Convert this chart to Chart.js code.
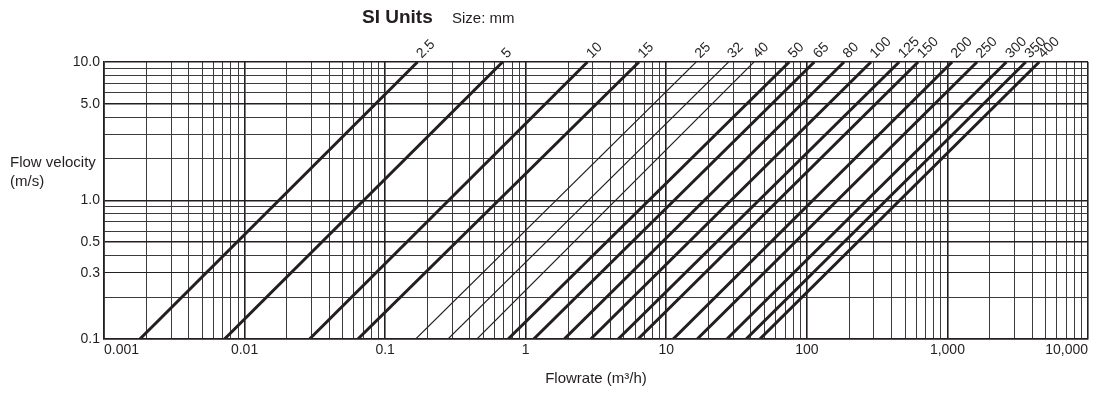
<!DOCTYPE html>
<html>
<head>
<meta charset="utf-8">
<script src="https://cdn.jsdelivr.net/npm/chart.js@4.4.1/dist/chart.umd.min.js"></script>
<style>
	html, body { margin: 0; padding: 0; background: #fff; }
</style>
</head>
<body>
<canvas id="chart-pipe-velocity" width="1106" height="394"></canvas>
<script>
// Pipe sizes (mm) and the flowrate (m3/h) where each line meets 0.1 m/s and 10 m/s
const SIZES = ["2.5", "5", "10", "15", "25", "32", "40", "50", "65", "80", "100", "125", "150", "200", "250", "300", "350", "400"];
const FLOW_AT_LOW_V = [0.0018, 0.0072, 0.029, 0.064, 0.165, 0.28, 0.45, 0.75, 1.14, 1.88, 2.9, 4.55, 6.3, 11.2, 16.6, 27, 37, 46.3];
const FLOW_AT_HIGH_V = [0.17, 0.685, 2.75, 6.4, 16.3, 27.7, 42, 75, 113, 184, 286, 454, 619, 1080, 1625, 2630, 3610, 4500];
const THIN_SIZES = ["25", "32", "40"];
const V_LOW = 0.1;
const V_HIGH = 10;

const X_DECADES = [0.001, 0.01, 0.1, 1, 10, 100, 1000, 10000];
const X_TICK_LABELS = ["0.001", "0.01", "0.1", "1", "10", "100", "1,000", "10,000"];
const Y_DECADES = [0.1, 1, 10];
const Y_TICK_LABELS = [0.1, 0.3, 0.5, 1, 5, 10];

const INK = "#231f20";
const FONT = "'Liberation Sans', Arial, Helvetica, sans-serif";

// log grid: 1..9 in every decade
const logSteps = (decades) => {
	const out = [];
	decades.forEach((d, i) => {
		if (i === decades.length - 1) {
			out.push(d);
			return;
		}
		for (let m = 1; m <= 9; m++) out.push(+(d * m).toPrecision(3));
	});
	return out;
};
const isDecade = (v, list) => list.some((d) => Math.abs(v / d - 1) < 1e-6);

const CHART_DATA = {
	datasets: SIZES.map((size, i) => ({
		label: size,
		data: [
			{ x: FLOW_AT_LOW_V[i], y: V_LOW },
			{ x: FLOW_AT_HIGH_V[i], y: V_HIGH },
		],
		showLine: true,
		borderColor: INK,
		borderWidth: THIN_SIZES.includes(size) ? 1.1 : 3,
		pointRadius: 0,
		fill: false,
	})),
};

// size labels at the top of each line + titles
const annotations = {
	id: "annotations",
	afterDatasetsDraw(chart) {
		const { ctx } = chart;
		ctx.save();
		ctx.fillStyle = INK;
		ctx.textAlign = "left";
		ctx.textBaseline = "middle";
		ctx.font = "14px " + FONT;
		chart.data.datasets.forEach((ds, i) => {
			const pt = chart.getDatasetMeta(i).data[1];
			ctx.save();
			ctx.translate(pt.x + 1.5, pt.y - 6);
			ctx.rotate(-Math.PI / 4);
			ctx.fillText(ds.label, 0, 0);
			ctx.restore();
		});

		// y axis title
		ctx.font = "15px " + FONT;
		ctx.fillText("Flow velocity", 10, 163);
		ctx.fillText("(m/s)", 10, 182);

		// heading
		ctx.textBaseline = "alphabetic";
		ctx.font = "bold 19px " + FONT;
		ctx.fillText("SI Units", 362, 23);
		ctx.font = "15px " + FONT;
		ctx.fillText("Size: mm", 452, 23);
		ctx.restore();
	},
};

const CHART_CONFIG = {
	type: "scatter",
	data: CHART_DATA,
	plugins: [annotations],
	options: {
		responsive: false,
		animation: false,
		layout: {
			padding: { top: 62, right: 18, left: 0, bottom: 0 },
		},
		plugins: {
			legend: { display: false },
			title: { display: false },
			tooltip: { enabled: false },
		},
		scales: {
			x: {
				type: "logarithmic",
				min: 0.001,
				max: 10000,
				afterBuildTicks: (scale) => {
					scale.ticks = logSteps(X_DECADES).map((v) => ({ value: v }));
				},
				afterFit: (scale) => {
					scale.height = 55;
				},
				border: { display: true, color: INK, width: 1.6 },
				grid: {
					drawTicks: false,
					color: (c) => (isDecade(c.tick.value, X_DECADES) ? INK : "#3d3a3b"),
					lineWidth: (c) => (isDecade(c.tick.value, X_DECADES) ? 1.6 : 1),
				},
				ticks: {
					autoSkip: false,
					maxRotation: 0,
					align: "inner",
					padding: 3,
					color: INK,
					font: { family: FONT, size: 14 },
					callback: (value) => {
						const k = X_DECADES.findIndex((d) => Math.abs(value / d - 1) < 1e-6);
						return k >= 0 ? X_TICK_LABELS[k] : "";
					},
				},
				title: {
					display: true,
					text: "Flowrate (m\u00b3/h)",
					color: INK,
					font: { family: FONT, size: 15 },
					padding: { top: 4, bottom: 6 },
				},
			},
			y: {
				type: "logarithmic",
				min: 0.1,
				max: 10,
				afterBuildTicks: (scale) => {
					scale.ticks = logSteps(Y_DECADES).map((v) => ({ value: v }));
				},
				afterFit: (scale) => {
					scale.width = 104;
				},
				border: { display: true, color: INK, width: 1.6 },
				grid: {
					drawTicks: false,
					color: (c) => (isDecade(c.tick.value, Y_TICK_LABELS) ? INK : "#3d3a3b"),
					lineWidth: (c) => (isDecade(c.tick.value, [0.1, 0.5, 1, 5, 10]) ? 1.6 : 1),
				},
				ticks: {
					autoSkip: false,
					padding: 4,
					color: INK,
					font: { family: FONT, size: 14 },
					callback: (value) => (isDecade(value, Y_TICK_LABELS) ? value.toFixed(1) : ""),
				},
			},
		},
	},
};

new Chart(document.getElementById("chart-pipe-velocity"), CHART_CONFIG);
</script>
</body>
</html>
